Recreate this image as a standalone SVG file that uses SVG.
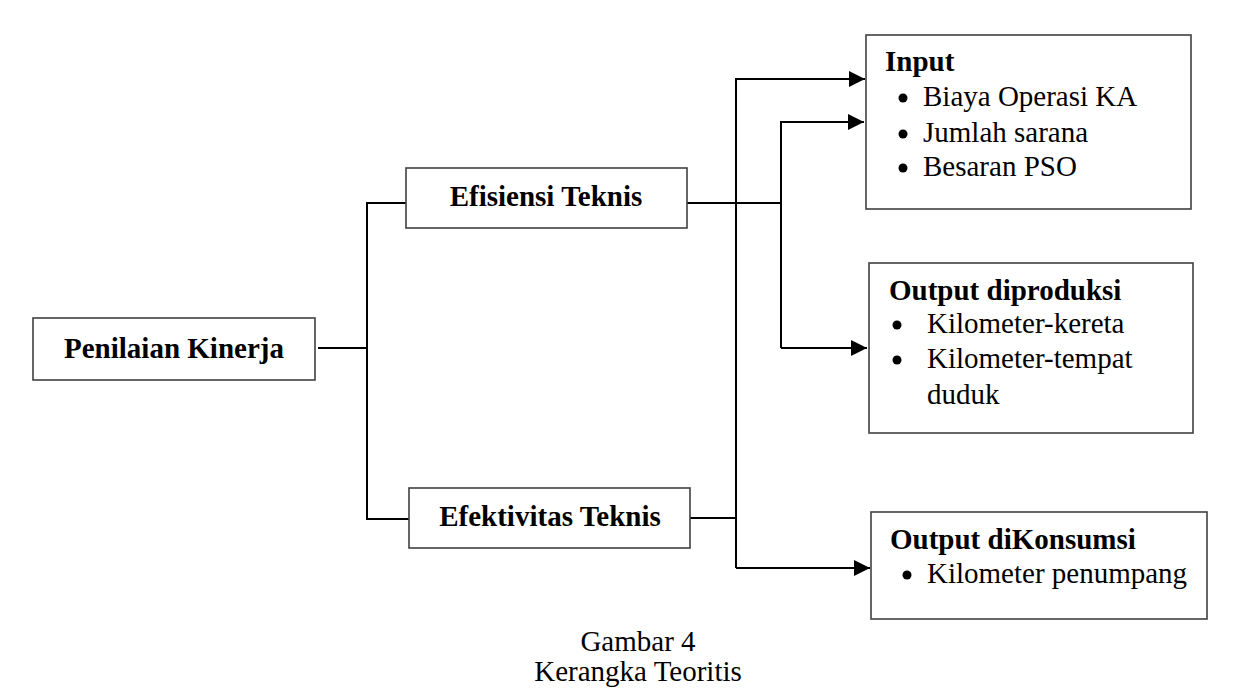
<svg xmlns="http://www.w3.org/2000/svg" width="1250" height="689" viewBox="0 0 1250 689">
<style>
.box{fill:#fff;stroke:#404040;stroke-width:1.6}
.ln{fill:none;stroke:#000;stroke-width:2}
.t{font-family:"Liberation Serif","Times New Roman",serif;font-size:29px;fill:#000}
.b{font-weight:bold}
.c{text-anchor:middle}
</style>
<defs>
<marker id="ah" markerWidth="16" markerHeight="16" refX="16" refY="8" orient="auto" markerUnits="userSpaceOnUse">
<path d="M0,0 L16,8 L0,16 Z" fill="#000"/>
</marker>
</defs>
<rect width="1250" height="689" fill="#fff"/>
<g id="connectors">
<path class="ln" d="M318,348 H367"/>
<path class="ln" d="M406,203 H367 V519 H409"/>
<path class="ln" d="M687,203 H781"/>
<path class="ln" d="M690,518 H736"/>
<path class="ln" d="M736,568 V79 H865" marker-end="url(#ah)"/>
<path class="ln" d="M781,348 V122 H864" marker-end="url(#ah)"/>
<path class="ln" d="M781,348 H867" marker-end="url(#ah)"/>
<path class="ln" d="M736,568 H870" marker-end="url(#ah)"/>
</g>
<g id="penilaian">
<rect class="box" x="33" y="318" width="282" height="62"/>
<text class="t b c" x="174" y="358">Penilaian Kinerja</text>
</g>
<g id="efisiensi">
<rect class="box" x="406" y="168" width="281" height="60"/>
<text class="t b c" x="546" y="206">Efisiensi Teknis</text>
</g>
<g id="efektivitas">
<rect class="box" x="409" y="488" width="281" height="60"/>
<text class="t b c" x="550" y="526">Efektivitas Teknis</text>
</g>
<g id="input">
<rect class="box" x="866" y="35" width="325" height="174"/>
<text class="t b" x="885" y="71">Input</text>
<circle cx="903" cy="98" r="4.5"/>
<text class="t" x="923" y="106">Biaya Operasi KA</text>
<circle cx="903" cy="134" r="4.5"/>
<text class="t" x="923" y="142">Jumlah sarana</text>
<circle cx="903" cy="168" r="4.5"/>
<text class="t" x="923" y="176">Besaran PSO</text>
</g>
<g id="output-diproduksi">
<rect class="box" x="869" y="263" width="324" height="170"/>
<text class="t b" x="889" y="300">Output diproduksi</text>
<circle cx="897" cy="325" r="4.5"/>
<text class="t" x="927" y="333">Kilometer-kereta</text>
<circle cx="897" cy="360" r="4.5"/>
<text class="t" x="927" y="368">Kilometer-tempat</text>
<text class="t" x="927" y="404">duduk</text>
</g>
<g id="output-dikonsumsi">
<rect class="box" x="871" y="512" width="336" height="107"/>
<text class="t b" x="890" y="549">Output diKonsumsi</text>
<circle cx="907" cy="575" r="4.5"/>
<text class="t" x="927" y="583">Kilometer penumpang</text>
</g>
<g id="caption">
<text class="t c" x="638" y="651">Gambar 4</text>
<text class="t c" x="638" y="681">Kerangka Teoritis</text>
</g>
</svg>
